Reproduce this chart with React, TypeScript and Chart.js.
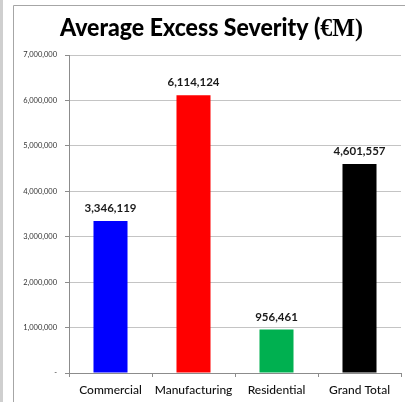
import React, { useEffect, useRef } from "react";
import { Chart, registerables } from "chart.js";

Chart.register(...registerables);

const categories = ["Commercial", "Manufacturing", "Residential", "Grand Total"];
const severity = [3346119, 6114124, 956461, 4601557];
const barColors = ["#0000ff", "#ff0000", "#00b050", "#000000"];
const yTickMax = 7000000;
const yTickStep = 1000000;
const titleMain = "Average Excess Severity (";
const titleTail = "€M)";

const fmt = (v: number) => (v === 0 ? "-" : Math.round(v).toLocaleString("en-US"));

const decorPlugin = {
  id: "decor",
  beforeDraw(chart: any) {
    const ctx = chart.ctx;
    ctx.save();
    ctx.fillStyle = "#ffffff";
    ctx.fillRect(0, 0, chart.width, chart.height);
    ctx.fillStyle = "#cfcfcf";
    ctx.fillRect(0, 0, 3, chart.height);
    ctx.strokeStyle = "#a6a6a6";
    ctx.lineWidth = 1;
    ctx.beginPath();
    ctx.moveTo(13.5, chart.height);
    ctx.lineTo(13.5, 5.5);
    ctx.lineTo(chart.width, 5.5);
    ctx.stroke();
    ctx.restore();
  },
  afterDraw(chart: any) {
    const ctx = chart.ctx;
    ctx.save();
    const f1 = "900 24px Lato";
    const f2 = "bold 25px 'Liberation Serif'";
    ctx.font = f1;
    const w1 = ctx.measureText(titleMain).width;
    ctx.font = f2;
    const w2 = ctx.measureText(titleTail).width;
    const sx = 303 / (w1 + w2);
    const total = (w1 + w2) * sx;
    const cx = 211.5;
    ctx.translate(cx - total / 2, 36);
    ctx.scale(sx, 1);
    ctx.fillStyle = "#000000";
    ctx.textBaseline = "alphabetic";
    ctx.textAlign = "left";
    ctx.font = f1;
    ctx.fillText(titleMain, 0, 0);
    ctx.font = f2;
    ctx.fillText(titleTail, w1, 0);
    ctx.restore();
  },
};

const valueLabelPlugin = {
  id: "valueLabels",
  afterDatasetsDraw(chart: any) {
    const ctx = chart.ctx;
    const meta = chart.getDatasetMeta(0);
    ctx.save();
    ctx.font = "bold 11.5px Lato";
    ctx.fillStyle = "#1a1a1a";
    ctx.textAlign = "center";
    ctx.textBaseline = "alphabetic";
    meta.data.forEach((bar: any, i: number) => {
      ctx.fillText(fmt(severity[i]), bar.x, bar.y - 9);
    });
    ctx.restore();
  },
};

export default function App() {
  const ref = useRef<HTMLCanvasElement | null>(null);

  useEffect(() => {
    if (!ref.current) return;
    const chart = new Chart(ref.current, {
      type: "bar",
      data: {
        labels: categories,
        datasets: [
          {
            data: severity,
            backgroundColor: barColors,
            borderWidth: 0,
            categoryPercentage: 1,
            barPercentage: 0.41,
          },
        ],
      },
      options: {
        animation: false,
        responsive: false,
        layout: { padding: { top: 55, right: 4, left: 0, bottom: 0 } },
        plugins: {
          legend: { display: false },
          title: { display: false },
          tooltip: { enabled: false },
        },
        scales: {
          x: {
            offset: true,
            grid: {
              offset: true,
              drawOnChartArea: false,
              drawTicks: true,
              tickLength: 4,
              tickColor: "#8c8c8c",
            },
            border: { color: "#8c8c8c", width: 1 },
            ticks: {
              padding: 6,
              color: "#111111",
              font: { family: "Lato", size: 12, weight: "500" },
              maxRotation: 0,
              minRotation: 0,
              autoSkip: false,
            },
            afterFit: (scale: any) => {
              scale.height = 39;
            },
          },
          y: {
            min: 0,
            max: yTickMax,
            grid: {
              color: "#c4c4c4",
              tickColor: "#8c8c8c",
              tickLength: 4,
            },
            border: { color: "#8c8c8c", width: 1 },
            ticks: {
              stepSize: yTickStep,
              padding: 8,
              color: "#333333",
              font: { family: "Lato", size: 7.5 },
              callback: (v: any) => fmt(Number(v)),
            },
            afterFit: (scale: any) => {
              scale.width = 69;
            },
          },
        },
      },
      plugins: [decorPlugin, valueLabelPlugin],
    });
    return () => chart.destroy();
  }, []);

  return (
    <div
      style={{
        position: "fixed",
        left: 0,
        top: 0,
        width: 405,
        height: 402,
        overflow: "hidden",
        background: "#fff",
      }}
    >
      <canvas ref={ref} width={405} height={412} style={{ width: 405, height: 412, display: "block" }} />
    </div>
  );
}
